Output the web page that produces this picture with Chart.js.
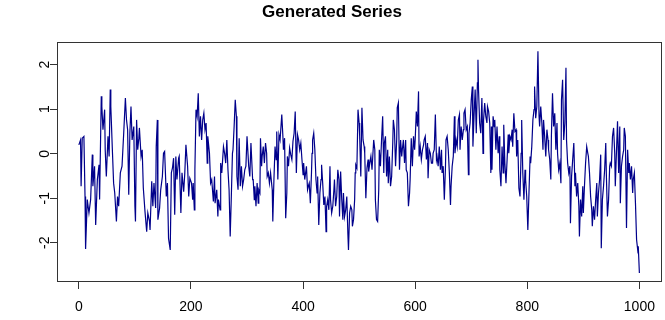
<!DOCTYPE html>
<html>
<head>
<meta charset="utf-8">
<script src="https://cdn.jsdelivr.net/npm/chart.js@4.4.0/dist/chart.umd.min.js"></script>
<style>
  html, body { margin: 0; padding: 0; background: #fff; }
</style>
</head>
<body>
<canvas id="seriesChart" width="665" height="320"></canvas>
<script>
// Values (index, value)
const obsIndex = [
  0,3,4,6,9,11,12,15,18,21,24,25,28,30,33,36,37,40,41,43,46,47,49,52,54,56,57,60,62,64,67,69,71,74,77,80,83,85,87,89,91,93,95,
  98,100,101,103,105,107,108,111,113,115,118,121,123,126,127,130,132,134,137,138,140,141,144,146,149,151,153,156,158,160,163,165,167,169,171,173,175,178,179,182,184,187,189,191,194,196,198,201,203,
  204,206,207,209,211,213,215,217,219,221,223,225,227,229,230,233,235,237,240,242,243,246,248,249,252,253,255,258,260,262,264,266,268,270,272,274,275,277,279,281,282,284,286,288,290,292,294,296,298,300,303,305,307,310,
  311,313,314,316,318,320,321,323,324,326,327,329,331,333,335,336,338,340,342,345,346,348,350,352,353,355,357,359,362,364,365,367,369,371,372,374,376,378,380,382,384,386,388,390,392,394,396,398,400,401,403,406,408,410,411,413,415,416,
  417,419,421,423,425,426,428,430,432,433,435,437,439,441,442,444,446,448,449,451,453,455,456,458,460,462,464,465,467,469,471,472,474,476,478,480,481,483,485,487,488,490,492,493,494,496,498,500,501,503,505,507,509,510,512,514,516,517,519,521,523,
  524,526,528,529,531,533,535,536,538,540,542,544,545,547,549,551,552,554,556,558,560,561,563,565,567,568,570,572,574,576,577,579,581,583,584,586,588,590,591,593,595,597,599,600,602,604,606,607,609,611,613,615,616,618,620,622,623,625,627,629,
  631,632,634,636,638,639,641,643,645,647,648,650,652,654,655,657,659,661,663,664,666,668,670,671,673,675,677,679,680,682,684,686,687,689,691,693,695,696,698,700,702,703,705,707,709,711,712,713,715,717,719,721,722,724,726,728,729,731,733,735,736,
  737,739,741,742,744,746,748,750,751,753,755,757,758,760,762,764,766,767,769,771,773,774,776,778,780,781,783,785,787,789,790,792,794,796,797,799,801,803,805,806,808,810,812,813,815,817,819,821,822,824,826,828,829,831,833,835,837,838,840,842,843,
  844,845,847,849,851,853,854,856,858,860,861,863,865,867,869,870,872,874,876,877,879,881,883,885,886,888,890,892,893,895,897,899,900,902,904,906,908,909,911,913,915,916,918,920,922,924,925,927,929,931,932,934,936,938,940,941,943,945,947,948,
  950,952,954,956,957,959,961,963,965,966,968,970,972,973,975,977,979,981,982,984,986,988,989,991,993,995,997,998,1000
];
const obsValue = [
  0.20,0.31,-0.73,0.35,0.39,-0.96,-2.14,-1.03,-1.33,-1.03,-0.02,-0.73,-0.28,-1.60,-0.58,-0.25,-1.03,1.29,1.06,0.54,0.99,0.09,-0.51,0.39,-0.06,1.44,1.06,0.01,-0.66,-0.88,-1.52,-0.96,-1.18,-0.43,-0.28,0.46,1.25,0.76,0.54,-0.92,0.46,1.06,0.31,
  0.61,-1.18,-1.52,0.76,0.09,0.35,0.58,-0.06,0.09,-0.77,-1.30,-1.75,-1.33,-1.52,-1.71,-0.62,-1.18,-0.66,-1.22,0.16,0.76,-1.48,-1.22,-0.81,-0.51,0.01,0.05,-0.96,-0.66,-1.90,-2.16,-0.43,-0.32,-0.10,-1.37,-0.06,-0.58,-0.10,-0.06,-1.33,-0.43,-0.85,-0.43,0.20,-0.28,-0.96,-0.55,-0.66,-1.03,
  -0.66,-1.26,-0.36,0.99,0.84,1.36,0.39,0.84,0.31,0.76,0.91,0.54,0.69,-0.21,0.39,0.01,-0.66,-0.58,-1.07,-0.51,-1.11,-0.81,-1.41,-1.03,-1.26,-0.21,-0.43,0.16,0.01,-0.21,0.31,-0.36,-0.81,-1.86,-0.96,0.01,0.09,0.61,1.21,0.84,-0.51,-0.81,0.35,-0.73,-0.28,-0.73,-0.58,-0.36,-0.28,0.39,-0.28,-0.51,0.24,-0.58,
  -0.58,-1.03,-0.73,-1.18,-0.66,-1.11,-0.81,-0.88,0.35,-0.28,-0.06,0.16,-0.21,0.24,0.01,-0.51,-0.43,-0.66,-0.43,-0.81,-1.52,-0.58,0.16,-0.13,0.50,-0.58,0.43,0.31,0.88,0.39,0.09,0.35,-1.45,-0.88,-0.06,-0.28,0.13,-0.02,-0.13,0.28,0.46,0.95,-0.43,0.43,0.31,0.09,0.24,-0.13,-0.47,-0.21,-0.58,-0.28,-0.81,-0.70,-0.66,-1.11,-0.43,0.01,
  0.31,0.46,0.09,-0.58,-0.88,-0.51,-1.60,-0.88,-0.58,-0.25,-0.66,-1.15,-0.96,-1.75,-1.18,-1.03,-1.26,-0.28,-1.03,-1.33,-1.18,-0.81,-0.58,-1.18,-0.96,-0.36,-0.58,-1.41,-0.40,-1.03,-1.48,-0.88,-1.41,-1.26,-0.96,-1.82,-2.16,-1.33,-1.18,-1.26,-1.63,-1.48,-1.03,-0.43,-0.25,-0.32,0.99,0.69,0.39,-0.51,1.03,0.31,0.16,0.01,-1.00,-0.32,-0.13,-0.40,-0.21,-0.06,-0.36,
  -0.36,0.31,0.09,-1.03,-1.48,-1.52,-0.81,0.09,-0.28,0.31,0.84,-0.43,0.24,0.39,-0.51,0.09,-0.66,-0.06,-0.73,-0.51,0.24,0.76,0.54,-0.28,0.31,1.03,1.14,-0.36,0.31,-0.06,0.09,0.31,-0.21,0.31,-0.36,-0.43,-1.18,-0.88,-0.58,0.35,-0.28,0.39,0.09,0.31,0.95,0.61,1.40,-0.06,0.16,-0.13,0.09,0.20,0.31,0.39,-0.13,0.24,-0.55,0.09,0.01,-0.21,
  -0.21,0.01,0.09,0.88,-0.13,-0.06,-0.28,0.16,-0.36,0.09,-0.43,-0.28,-1.03,-0.32,0.31,0.39,0.09,-0.43,-1.15,-0.73,-0.28,-0.06,0.84,0.01,0.31,0.16,0.76,0.88,0.09,0.61,0.31,0.54,0.91,0.99,0.54,0.61,-0.47,0.46,0.69,1.21,1.51,0.16,0.84,1.44,0.46,1.59,2.11,1.44,0.69,0.46,1.25,0.01,0.76,1.14,0.84,0.69,1.06,0.95,0.69,-0.43,0.61,
  -0.36,0.84,0.61,0.76,0.09,0.61,0.01,0.39,-0.36,-0.73,0.16,-0.43,0.65,-0.21,-0.66,-0.13,0.43,0.01,0.39,0.31,0.54,0.16,0.91,0.50,0.54,-0.06,0.31,-0.77,-0.96,0.01,0.76,-0.43,-1.03,-0.36,-0.58,-0.96,-1.71,-0.88,-0.06,-0.21,0.16,0.76,0.99,1.51,0.80,1.06,2.30,0.84,0.61,1.06,0.69,0.09,0.76,0.39,-0.06,0.54,0.31,0.09,-0.13,-0.58,0.39,
  0.39,1.36,0.61,0.91,0.09,0.69,0.01,-0.36,-0.21,-0.66,1.21,1.66,0.31,0.69,1.93,0.31,-0.21,-0.43,-0.28,-1.56,-0.51,-0.13,0.24,-0.73,-0.43,-0.96,-0.66,-1.18,-1.86,-1.03,-1.41,-0.73,-1.33,-0.73,-0.21,0.16,0.01,-0.06,-0.43,-0.96,-1.26,-1.63,-1.18,-1.48,-1.03,-0.66,-1.41,-0.88,-0.58,-0.02,-2.12,-1.03,-0.73,-0.36,0.24,-0.43,-1.41,-1.03,-0.28,-0.21,
  -0.28,0.39,0.58,0.01,-0.73,0.01,0.73,-0.43,0.61,-1.11,-0.28,-0.06,0.09,0.58,0.39,-1.67,0.09,-0.43,-0.21,-0.58,-0.28,-0.88,-0.58,-0.43,-1.11,-1.93,-2.16,-2.08,-2.68
];
const xTicks = [0, 200, 400, 600, 800, 1000];
const yTicks = [-2, -1, 0, 1, 2];
const chartTitle = 'Generated Series';

const points = obsIndex.map((x, i) => ({ x: x, y: obsValue[i] }));
const labelFont = '"Liberation Sans", Arial, sans-serif';

// box around the plot and the rotated y labels (R style)
const framePlugin = {
  id: 'frame',
  afterDraw(chart) {
    const a = chart.chartArea;
    const ctx = chart.ctx;
    ctx.save();
    ctx.strokeStyle = '#333';
    ctx.lineWidth = 1;
    ctx.strokeRect(Math.round(a.left) + 0.5, Math.round(a.top) + 0.5,
      Math.round(a.right - a.left) - 1, Math.round(a.bottom - a.top) - 1);
    const ys = chart.scales.y;
    ctx.fillStyle = '#000';
    ctx.font = '14px ' + labelFont;
    ctx.textAlign = 'center';
    ctx.textBaseline = 'middle';
    yTicks.forEach(v => {
      ctx.save();
      ctx.translate(45, ys.getPixelForValue(v));
      ctx.rotate(-Math.PI / 2);
      ctx.fillText(String(v), 0, 0);
      ctx.restore();
    });
    ctx.restore();
  }
};

new Chart(document.getElementById('seriesChart'), {
  type: 'line',
  data: {
    datasets: [{
      data: points,
      borderColor: '#00008b',
      borderWidth: 1.2,
      pointRadius: 0,
      tension: 0,
      fill: false
    }]
  },
  options: {
    responsive: false,
    animation: false,
    devicePixelRatio: 1,
    layout: { padding: { left: 0, right: 1, top: 0, bottom: 0 } },
    plugins: {
      legend: { display: false },
      tooltip: { enabled: false },
      title: {
        display: true,
        text: chartTitle,
        color: '#000',
        font: { family: labelFont, size: 17, weight: 'bold' },
        padding: { top: 2, bottom: 20 }
      }
    },
    scales: {
      x: {
        type: 'linear',
        min: -39,
        max: 1040,
        afterBuildTicks: s => { s.ticks = xTicks.map(v => ({ value: v })); },
        afterFit: s => { s.height = 38; },
        grid: { drawOnChartArea: false, drawTicks: true, tickLength: 7, color: '#333' },
        border: { display: false },
        ticks: {
          color: '#000',
          font: { family: labelFont, size: 14 },
          padding: 10,
          maxRotation: 0,
          autoSkip: false,
          callback: v => String(v)
        }
      },
      y: {
        type: 'linear',
        min: -2.88,
        max: 2.5,
        afterBuildTicks: s => { s.ticks = yTicks.map(v => ({ value: v })); },
        afterFit: s => { s.width = 57; },
        grid: { drawOnChartArea: false, drawTicks: true, tickLength: 7, color: '#333' },
        border: { display: false },
        ticks: { display: false }
      }
    }
  },
  plugins: [framePlugin]
});
</script>
</body>
</html>
